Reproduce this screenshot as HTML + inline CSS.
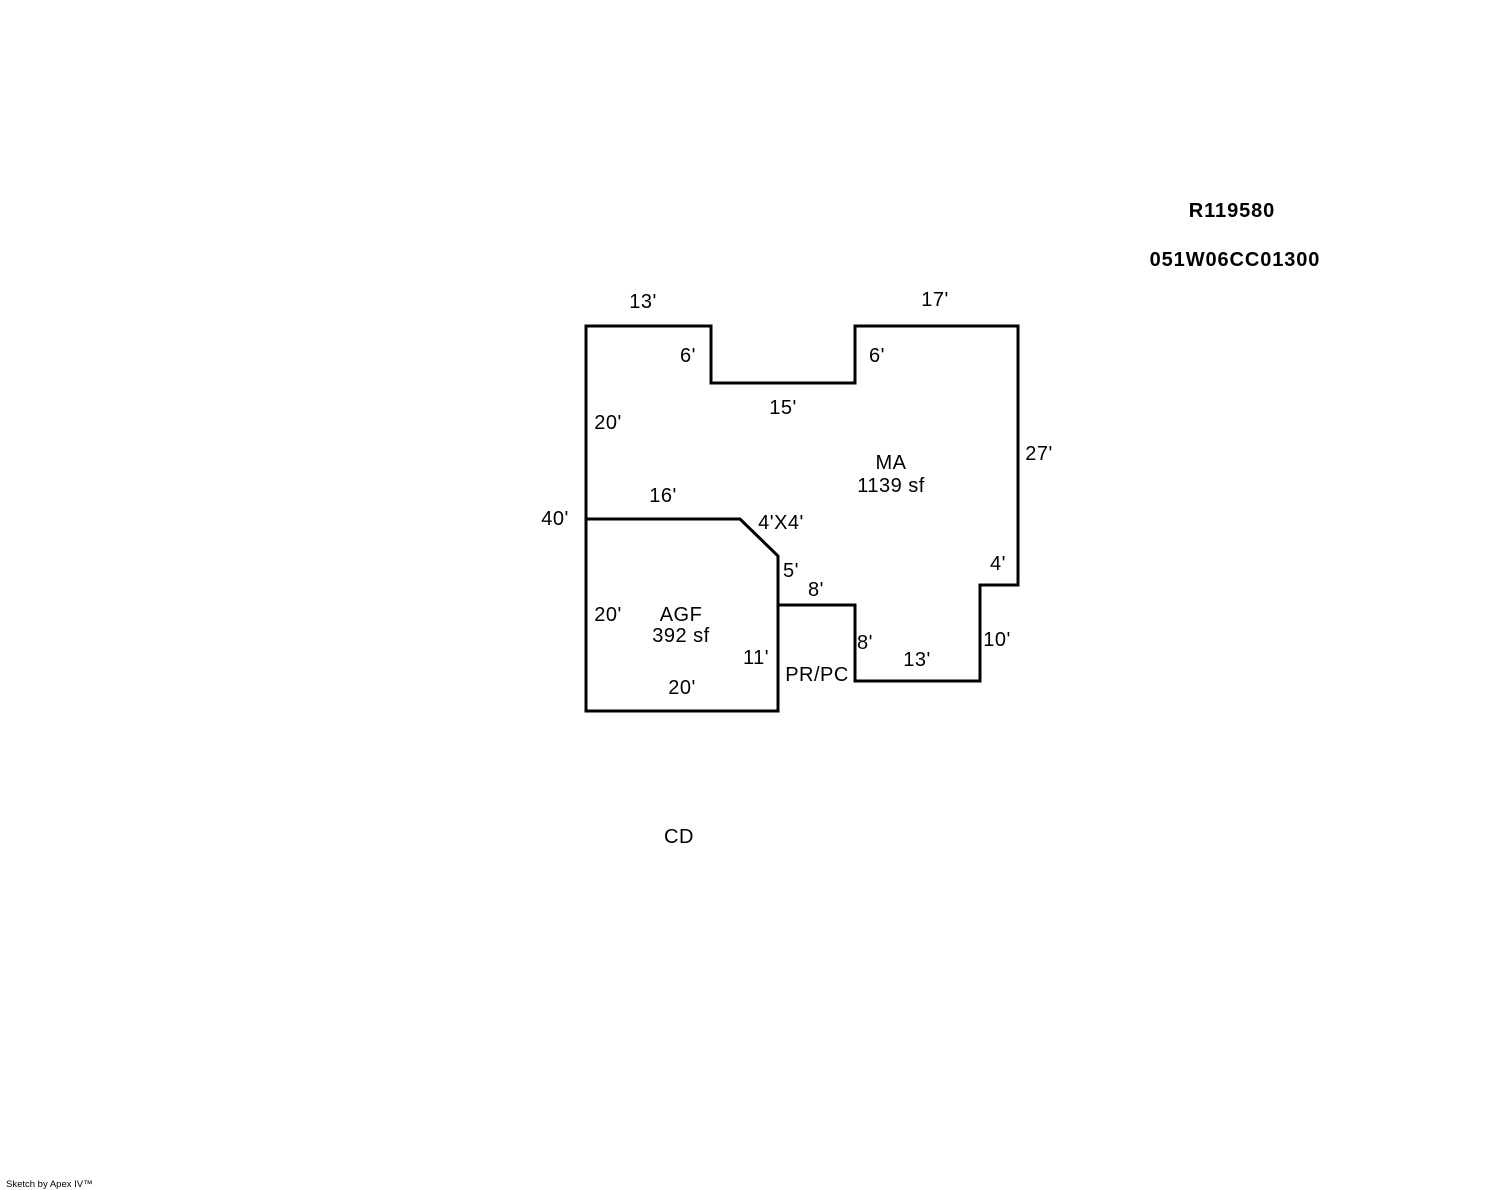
<!DOCTYPE html>
<html><head><style>body{margin:0;background:#fff}svg{display:block}</style></head><body>
<svg width="1488" height="1190" viewBox="0 0 1488 1190" xmlns="http://www.w3.org/2000/svg">
<g fill="none" stroke="#000" stroke-width="3" stroke-linejoin="miter" stroke-linecap="square">
<polygon points="586,326 711,326 711,383 855,383 855,326 1018,326 1018,585 980,585 980,681 855,681 855,605 778,605 778,711 586,711"/>
<polyline points="586,519 740,519 778,556 778,605"/>
</g>
<g font-family="Liberation Sans, Arial, sans-serif" font-size="20" letter-spacing="0.5" fill="#000" text-anchor="middle">
<text x="1232" y="217" font-weight="bold" letter-spacing="0.9">R119580</text>
<text x="1235" y="266" font-weight="bold" letter-spacing="0.9">051W06CC01300</text>
<text x="643" y="308">13'</text>
<text x="935" y="306">17'</text>
<text x="688" y="362">6'</text>
<text x="877" y="362">6'</text>
<text x="783" y="414">15'</text>
<text x="608" y="429">20'</text>
<text x="1039" y="460">27'</text>
<text x="891" y="469">MA</text>
<text x="891" y="492">1139 sf</text>
<text x="663" y="502">16'</text>
<text x="555" y="525">40'</text>
<text x="781" y="529">4'X4'</text>
<text x="998" y="570">4'</text>
<text x="791" y="577">5'</text>
<text x="816" y="596">8'</text>
<text x="608" y="621">20'</text>
<text x="681" y="621">AGF</text>
<text x="681" y="642">392 sf</text>
<text x="997" y="646">10'</text>
<text x="865" y="649">8'</text>
<text x="917" y="666">13'</text>
<text x="756" y="664">11'</text>
<text x="817" y="681">PR/PC</text>
<text x="682" y="694">20'</text>
<text x="679" y="843">CD</text>
</g>
<text x="6" y="1187" font-family="Liberation Sans, Arial, sans-serif" font-size="9.5" fill="#000">Sketch by Apex IV™</text>
</svg>
</body></html>
